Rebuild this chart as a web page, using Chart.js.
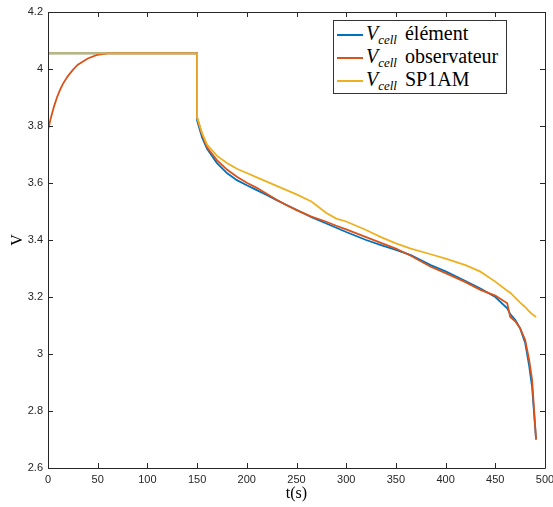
<!DOCTYPE html>
<html>
<head>
<meta charset="utf-8">
<script src="https://cdn.jsdelivr.net/npm/chart.js@4.4.0/dist/chart.umd.min.js"></script>
<style>
body { margin: 0; background: #fff; }
#wrap { position: relative; width: 553px; height: 507px; }
#legend { position: absolute; left: 333px; top: 20px; width: 174px; height: 74px; border: 1px solid #333; background: #fff;
  font-family: "Liberation Serif", serif; font-size: 20px; color: #000; box-sizing: border-box; }
.row { position: absolute; left: 0; height: 24px; line-height: 24px; white-space: nowrap; }
.sw { display: inline-block; width: 26px; height: 2px; vertical-align: middle; margin: 0 3px 0 3px; }
sub { font-size: 13px; vertical-align: -4px; line-height: 0; margin-right: 3px; }
</style>
</head>
<body>
<div id="wrap">
  <canvas id="chart" width="553" height="507"></canvas>
  <div id="legend"></div>
</div>
<script>
// time (s)
const t = [0, 3, 6, 9, 12, 15, 20, 25, 30, 40, 50, 60, 150, 150, 155, 160, 170, 180, 190, 200, 210, 220, 230, 240,
  250, 265, 280, 290, 300, 320, 335, 350, 365, 385, 400, 420, 435, 450, 462, 465, 470, 475, 480, 484, 487, 491];

const vElement = [4.055, 4.055, 4.055, 4.055, 4.055, 4.055, 4.055, 4.055, 4.055, 4.055, 4.055, 4.055, 4.055, 3.82,
  3.76, 3.72, 3.67, 3.635, 3.61, 3.592, 3.575, 3.558, 3.54, 3.523, 3.506, 3.48, 3.458, 3.443, 3.428, 3.40, 3.382,
  3.365, 3.347, 3.312, 3.29, 3.256, 3.23, 3.20, 3.16, 3.14, 3.12, 3.09, 3.04, 2.96, 2.885, 2.70];

const vObservateur = [3.786, 3.83, 3.868, 3.90, 3.926, 3.948, 3.975, 3.997, 4.015, 4.037, 4.05, 4.055, 4.055, 3.83,
  3.77, 3.725, 3.68, 3.647, 3.622, 3.601, 3.583, 3.562, 3.541, 3.522, 3.505, 3.482, 3.464, 3.45, 3.437, 3.41, 3.39,
  3.37, 3.345, 3.306, 3.284, 3.252, 3.225, 3.205, 3.178, 3.13, 3.115, 3.09, 3.05, 2.98, 2.91, 2.70];

const vSP1AM = [4.055, 4.055, 4.055, 4.055, 4.055, 4.055, 4.055, 4.055, 4.055, 4.055, 4.055, 4.055, 4.055, 3.83,
  3.775, 3.735, 3.695, 3.67, 3.65, 3.635, 3.62, 3.605, 3.59, 3.575, 3.56, 3.535, 3.495, 3.475, 3.465, 3.435, 3.41,
  3.388, 3.37, 3.35, 3.335, 3.312, 3.289, 3.254, 3.222, 3.215, 3.198, 3.18, 3.165, 3.15, 3.14, 3.13];

const xTicks = [0, 50, 100, 150, 200, 250, 300, 350, 400, 450, 500];
const yTicks = [2.6, 2.8, 3, 3.2, 3.4, 3.6, 3.8, 4, 4.2];

const names = ["élément", "observateur", "SP1AM"];
const colors = ["#0072BD", "#D95319", "#EDB120"];

const pts = vals => vals.map((v, i) => ({ x: t[i], y: v }));

// legend with V_cell subscripts
const leg = document.getElementById("legend");
names.forEach((n, i) => {
  const row = document.createElement("div");
  row.className = "row";
  row.style.top = (0 + i * 23) + "px";
  row.innerHTML = '<span class="sw" style="background:' + colors[i] + '"></span><i>V</i><sub><i>cell</i></sub> ' + n;
  leg.appendChild(row);
});

// MATLAB style box with inward ticks on all sides
const boxTicks = {
  id: "boxTicks",
  afterDraw(chart) {
    const { ctx, chartArea: a, scales } = chart;
    ctx.save();
    ctx.strokeStyle = "#262626";
    ctx.lineWidth = 1;
    ctx.beginPath();
    ctx.rect(a.left + 0.5, a.top + 0.5, a.right - a.left, a.bottom - a.top);
    xTicks.forEach(v => {
      const x = Math.round(scales.x.getPixelForValue(v)) + 0.5;
      ctx.moveTo(x, a.bottom); ctx.lineTo(x, a.bottom - 5);
      ctx.moveTo(x, a.top); ctx.lineTo(x, a.top + 5);
    });
    yTicks.forEach(v => {
      const y = Math.round(scales.y.getPixelForValue(v)) + 0.5;
      ctx.moveTo(a.left, y); ctx.lineTo(a.left + 5, y);
      ctx.moveTo(a.right, y); ctx.lineTo(a.right - 5, y);
    });
    ctx.stroke();
    ctx.restore();
  }
};

const tickFont = { family: "Liberation Sans", size: 11 };
const titleFont = { family: "Liberation Serif", size: 16 };

new Chart(document.getElementById("chart"), {
  type: "line",
  data: {
    datasets: names.map((n, i) => ({
      label: "Vcell " + n,
      data: pts([vElement, vObservateur, vSP1AM][i]),
      borderColor: colors[i],
      borderWidth: 1.8,
      pointRadius: 0,
      tension: 0,
      order: 2 - i
    }))
  },
  options: {
    responsive: false,
    animation: false,
    layout: { padding: { top: 12, right: 8, left: 0, bottom: 0 } },
    plugins: { legend: { display: false }, tooltip: { enabled: false } },
    scales: {
      x: {
        type: "linear",
        min: 0, max: 500,
        afterBuildTicks: s => { s.ticks = xTicks.map(v => ({ value: v })); },
        afterFit: s => { s.height = 39; s.paddingLeft = 0; s.paddingRight = 0; },
        grid: { display: false, drawTicks: false },
        border: { display: false },
        ticks: { font: tickFont, color: "#262626", padding: 5, maxRotation: 0 },
        title: { display: true, text: "t(s)", font: titleFont, color: "#000", padding: { top: 0, bottom: 4 } }
      },
      y: {
        min: 2.6, max: 4.2,
        afterBuildTicks: s => { s.ticks = yTicks.map(v => ({ value: v })); },
        afterFit: s => { s.width = 48; },
        grid: { display: false, drawTicks: false },
        border: { display: false },
        ticks: { font: tickFont, color: "#262626", padding: 5, callback: v => String(Number(v.toFixed(2))) },
        title: { display: true, text: "V", font: titleFont, color: "#000", padding: { top: 8, bottom: 0 } }
      }
    }
  },
  plugins: [boxTicks]
});
</script>
</body>
</html>
